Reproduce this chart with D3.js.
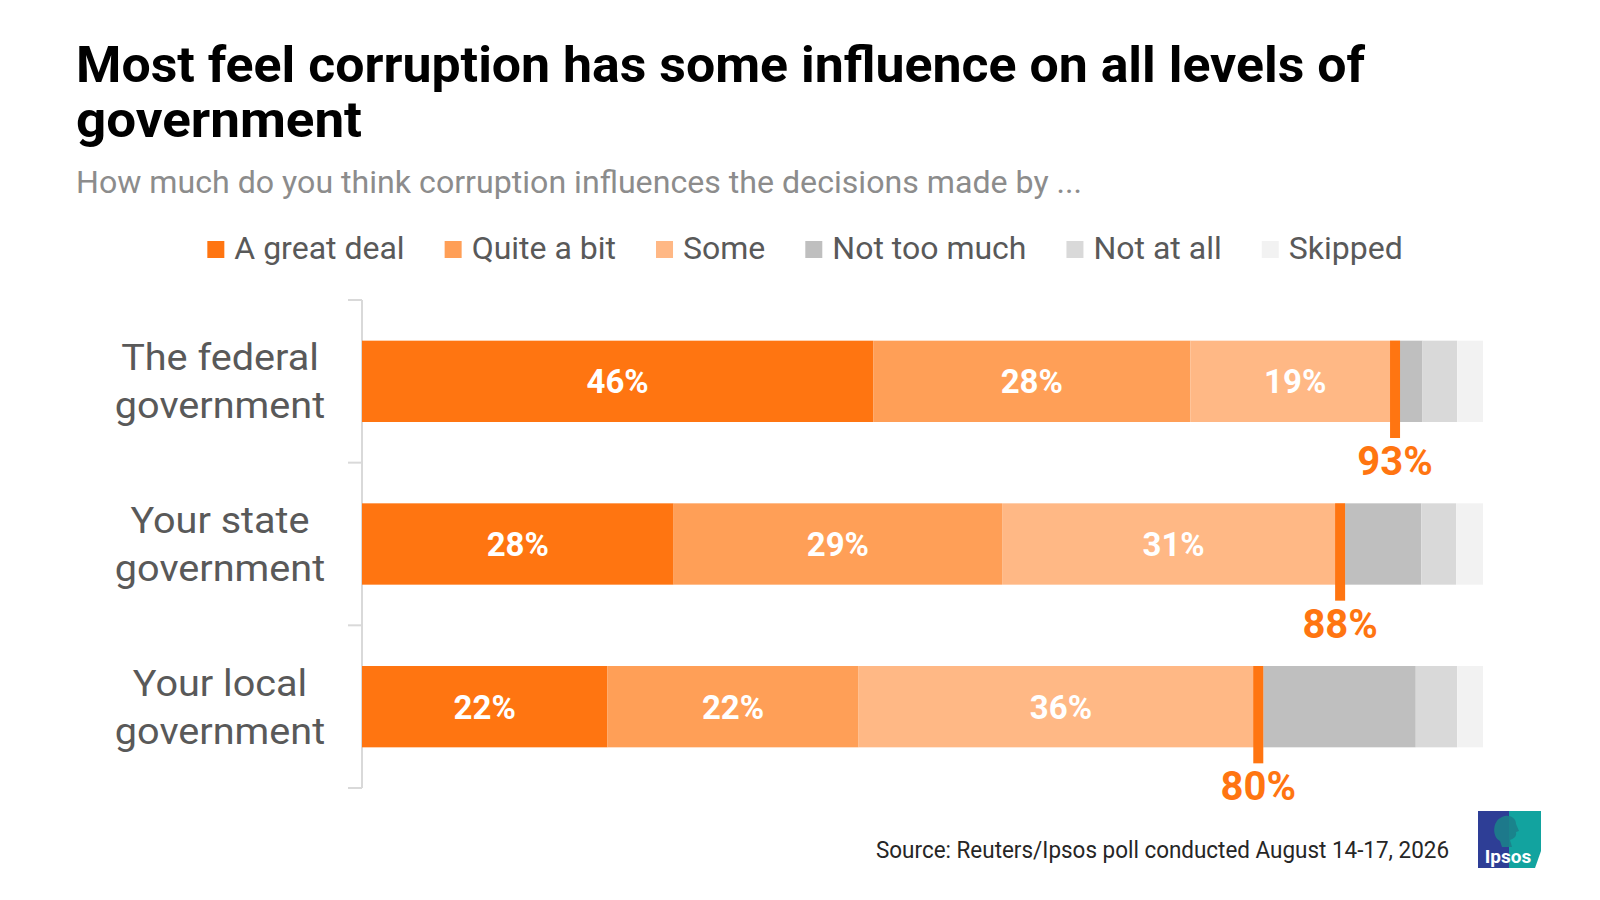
<!DOCTYPE html>
<html>
<head>
<meta charset="utf-8">
<script src="https://cdn.jsdelivr.net/npm/d3@7"></script>
<style>
  html, body { margin: 0; padding: 0; background: #ffffff; }
  svg { display: block; font-family: Roboto, "Noto Sans", sans-serif; }
</style>
</head>
<body>
<svg id="chart" width="1600" height="900"></svg>
<script>
// ---------- data ----------
const categories = ["The federal government", "Your state government", "Your local government"];
const categoryLines = [["The federal", "government"], ["Your state", "government"], ["Your local", "government"]];
const seriesNames = ["A great deal", "Quite a bit", "Some", "Not too much", "Not at all", "Skipped"];
const greatDeal  = [45.6, 27.8, 21.9];
const quiteABit  = [28.3, 29.3, 22.4];
const some       = [18.7, 30.6, 36.1];
const notTooMuch = [2.0, 6.8, 13.6];
const notAtAll   = [3.1, 3.1, 3.7];
const skipped    = [2.3, 2.4, 2.3];
const seriesColors = ["#FF7511", "#FF9F57", "#FFB885", "#BFBFBF", "#D9D9D9", "#F2F2F2"];
const labelledSeries = 3; // first three series show value labels; their sum is the net marker

const titleLines = ["Most feel corruption has some influence on all levels of", "government"];
const subtitle = "How much do you think corruption influences the decisions made by ...";
const source = "Source: Reuters/Ipsos poll conducted August 14-17, 2026";

// ---------- build table ----------
const seriesValues = [greatDeal, quiteABit, some, notTooMuch, notAtAll, skipped];
const table = categories.map((c, i) => {
  const row = { category: c };
  seriesNames.forEach((s, j) => row[s] = seriesValues[j][i]);
  return row;
});
const stacked = d3.stack().keys(seriesNames)(table);

const svg = d3.select("#chart");

// ---------- scales ----------
const x = d3.scaleLinear().domain([0, 100]).range([362, 1483]);
const y = d3.scaleBand().domain(categories).range([300, 788]).paddingInner(0.5).paddingOuter(0.25);
const color = d3.scaleOrdinal().domain(seriesNames).range(seriesColors);

// ---------- title ----------
function fit(sel, w) { sel.attr("textLength", w).attr("lengthAdjust", "spacingAndGlyphs"); }
const tTitle = svg.append("g");
tTitle.append("text").attr("x", 76).attr("y", 82).attr("font-size", 50).attr("font-weight", 700)
  .attr("fill", "#000").text(titleLines[0]).call(fit, 1289);
tTitle.append("text").attr("x", 76).attr("y", 137).attr("font-size", 50).attr("font-weight", 700)
  .attr("fill", "#000").text(titleLines[1]).call(fit, 286);
svg.append("text").attr("x", 76).attr("y", 193).attr("font-size", 32).attr("fill", "#8C8C8C")
  .text(subtitle).call(fit, 1006);

// ---------- legend ----------
const legend = svg.append("g");
let lx = 0;
const legendTextGap = 27, legendItemGap = 40;
seriesNames.forEach((s) => {
  const g = legend.append("g");
  g.append("rect").attr("x", lx).attr("y", 241).attr("width", 17).attr("height", 17).attr("fill", color(s));
  const t = g.append("text").attr("x", lx + legendTextGap).attr("y", 259).attr("font-size", 32).attr("fill", "#595959").text(s);
  const w = t.node().getComputedTextLength();
  lx += legendTextGap + w + legendItemGap;
});
const legendW = lx - legendItemGap;
legend.attr("transform", `translate(${805 - legendW / 2},0)`);

// ---------- axis ----------
const axis = svg.append("g").attr("stroke", "#D9D9D9").attr("stroke-width", 2);
const [r0, r1] = y.range();
axis.append("line").attr("x1", x(0)).attr("x2", x(0)).attr("y1", r0).attr("y2", r1);
const tickYs = categories.map((c, i) => r0 + i * y.step()).concat([r1]);
axis.selectAll("line.tick").data(tickYs).join("line").attr("class", "tick")
  .attr("x1", x(0) - 14).attr("x2", x(0)).attr("y1", d => d).attr("y2", d => d);

// ---------- bars ----------
const layers = svg.append("g").selectAll("g").data(stacked).join("g").attr("fill", d => color(d.key));
layers.selectAll("rect").data(d => d).join("rect")
  .attr("x", d => x(d[0]))
  .attr("width", d => x(d[1]) - x(d[0]))
  .attr("y", d => y(d.data.category))
  .attr("height", y.bandwidth());

// value labels
const labelLayers = svg.append("g").selectAll("g").data(stacked.slice(0, labelledSeries)).join("g");
labelLayers.selectAll("text").data(d => d).join("text")
  .attr("x", d => (x(d[0]) + x(d[1])) / 2)
  .attr("y", d => y(d.data.category) + y.bandwidth() / 2 + 12)
  .attr("text-anchor", "middle").attr("font-size", 33).attr("font-weight", 700).attr("fill", "#fff")
  .text(d => Math.round(d[1] - d[0]) + "%");

// category labels
const cat = svg.append("g");
categories.forEach((c, i) => {
  const cy = y(c) + y.bandwidth() / 2;
  categoryLines[i].forEach((line, k) => {
    const t = cat.append("text").attr("x", 220).attr("y", cy - 11 + k * 48)
      .attr("text-anchor", "middle").attr("font-size", 37).attr("fill", "#595959").text(line);
    const w = t.node().getComputedTextLength();
    fit(t, w * 1.07);
  });
});

// net markers
const net = table.map(r => seriesNames.slice(0, labelledSeries).reduce((a, k) => a + r[k], 0));
const markers = svg.append("g");
markers.selectAll("rect").data(table).join("rect")
  .attr("x", (d, i) => x(net[i]) - 10).attr("width", 10)
  .attr("y", d => y(d.category)).attr("height", y.bandwidth() + 16)
  .attr("fill", "#FF7511");
markers.selectAll("text").data(table).join("text")
  .attr("x", (d, i) => x(net[i]) - 5)
  .attr("y", d => y(d.category) + y.bandwidth() + 53)
  .attr("text-anchor", "middle").attr("font-size", 40).attr("font-weight", 700).attr("fill", "#FF7511")
  .text((d, i) => Math.round(net[i]) + "%");

// ---------- source ----------
svg.append("text").attr("x", 1449).attr("y", 858).attr("text-anchor", "end")
  .attr("font-size", 23).attr("fill", "#262626").text(source).call(fit, 573);

// ---------- logo ----------
const logo = svg.append("g").attr("transform", "translate(1478,811)");
logo.append("rect").attr("width", 33).attr("height", 57).attr("fill", "#2E3E96");
logo.append("path").attr("d", "M31,0 L63,0 L63,40 L57,57 L31,57 Z").attr("fill", "#12A39F");
logo.append("path").attr("d", "M22,30 C14,26 14,10 24,6 C30,3 38,6 38,13 L41,20 L38,21 C39,26 35,28 32,29 L34,36 L24,36 Z")
  .attr("fill", "#1C7F8A").attr("opacity", 0.9);
logo.append("text").attr("x", 30).attr("y", 52).attr("text-anchor", "middle").attr("font-size", 19)
  .attr("font-weight", 700).attr("fill", "#fff").text("Ipsos");
</script>
</body>
</html>
